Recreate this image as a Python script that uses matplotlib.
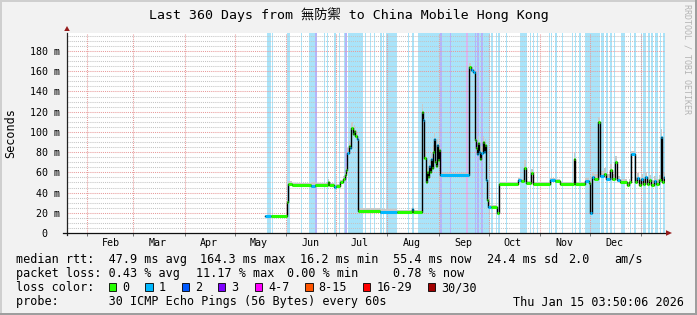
import matplotlib
matplotlib.use('Agg')
import matplotlib.pyplot as plt
import matplotlib.dates as mdates
from matplotlib.patches import Rectangle, Polygon
import numpy as np
import pandas as pd

W, H, DPI = 697, 315, 100
MONO = ['DejaVu Sans Mono', 'Noto Sans CJK TC']

# ---------------- data ----------------
title = "Last 360 Days from 無防禦 to China Mobile Hong Kong"
t_start = pd.Timestamp('2025-01-20 03:50:06')
t_end = pd.Timestamp('2026-01-15 03:50:06')

med_time = [
    '2025-05-19 12:00', '2025-05-23 05:00', '2025-06-01 14:00', '2025-06-02 05:00',
    '2025-06-04 10:00', '2025-06-16 07:00', '2025-06-18 07:00', '2025-06-26 10:00',
    '2025-06-27 00:00', '2025-06-30 00:00', '2025-07-01 00:00', '2025-07-03 08:00',
    '2025-07-05 04:00', '2025-07-06 09:00', '2025-07-07 06:00', '2025-07-07 21:00',
    '2025-07-08 18:00', '2025-07-09 16:00', '2025-07-10 06:00', '2025-07-11 04:00',
    '2025-07-11 19:00', '2025-07-12 16:00', '2025-07-13 14:00', '2025-07-14 05:00',
    '2025-07-14 14:00', '2025-07-27 11:00', '2025-08-06 16:00', '2025-08-15 21:00',
    '2025-08-16 17:00', '2025-08-21 21:00', '2025-08-22 14:00', '2025-08-23 08:00',
    '2025-08-24 02:00', '2025-08-24 22:00', '2025-08-25 15:00', '2025-08-26 05:00',
    '2025-08-26 23:00', '2025-08-27 13:00', '2025-08-28 04:00', '2025-08-28 18:00',
    '2025-08-29 06:00', '2025-08-29 20:00', '2025-08-30 08:00', '2025-08-31 01:00',
    '2025-08-31 15:00', '2025-09-01 06:00', '2025-09-01 20:00', '2025-09-19 04:00',
    '2025-09-20 05:00', '2025-09-21 17:00', '2025-09-22 15:00', '2025-09-23 10:00',
    '2025-09-24 00:00', '2025-09-24 14:00', '2025-09-25 08:00', '2025-09-25 22:00',
    '2025-09-26 16:00', '2025-09-27 10:00', '2025-09-28 05:00', '2025-09-28 19:00',
    '2025-09-29 10:00', '2025-09-30 00:00', '2025-09-30 21:00', '2025-10-02 14:00',
    '2025-10-06 01:00', '2025-10-07 06:00', '2025-10-18 12:00', '2025-10-20 08:00',
    '2025-10-22 13:00', '2025-10-23 08:00', '2025-10-26 18:00', '2025-10-27 13:00',
    '2025-11-06 19:00', '2025-11-09 19:00', '2025-11-13 02:00', '2025-11-21 06:00',
    '2025-11-22 03:00', '2025-11-28 04:00', '2025-11-30 06:00', '2025-12-01 04:00',
    '2025-12-02 02:00', '2025-12-03 14:00', '2025-12-06 00:00', '2025-12-06 22:00',
    '2025-12-09 12:00', '2025-12-10 12:00', '2025-12-12 22:00', '2025-12-13 23:00',
    '2025-12-15 22:00', '2025-12-17 08:00', '2025-12-18 23:00', '2025-12-23 11:00',
    '2025-12-24 16:00', '2025-12-25 23:00', '2025-12-28 04:00', '2025-12-29 12:00',
    '2025-12-30 09:00', '2025-12-31 21:00', '2026-01-02 02:00', '2026-01-03 07:00',
    '2026-01-04 12:00', '2026-01-05 17:00', '2026-01-06 22:00', '2026-01-08 10:00',
    '2026-01-09 22:00', '2026-01-11 10:00', '2026-01-12 19:00', '2026-01-13 13:00',
    '2026-01-14 10:00',
]
med_ms = [
    16.5, 16.5, 31, 48.5, 47, 46.5, 47, 50.5, 47, 45.5, 46, 50, 53, 57, 62, 79,
    86, 84, 104, 98, 101, 96, 93, 76, 21.5, 21, 21, 24, 21, 120, 112, 74,
    50, 60, 55, 66, 60, 73, 64, 80, 93, 70, 66, 87, 72, 82, 57, 164.5,
    161, 159, 92, 84, 78, 89, 80, 73, 79, 90, 80, 87, 52, 33, 26, 26,
    20, 48.5, 52, 51, 64, 49, 59, 48.5, 52, 51, 48, 73, 48, 51.5, 49, 20,
    55, 53, 110, 56, 58, 53, 62, 53, 70, 52, 50, 47, 50, 78, 50, 54,
    47, 53, 48, 55, 48, 52, 47, 51, 48, 52, 95, 50, 55,
]
med_loss = [
    1, 0, 0, 0, 0, 1, 0, 0, 0, 1, 0, 0, 0, 0, 0, 1,
    0, 1, 0, 0, 0, 0, 1, 1, 0, 1, 0, 1, 0, 0, 1, 0,
    0, 0, 0, 1, 0, 1, 0, 0, 1, 0, 0, 1, 0, 0, 1, 0,
    1, 1, 0, 0, 1, 0, 1, 0, 1, 0, 1, 0, 1, 0, 1, 0,
    0, 0, 1, 0, 0, 0, 0, 0, 1, 0, 0, 0, 0, 1, 0, 1,
    1, 0, 0, 1, 0, 1, 0, 0, 0, 1, 0, 0, 0, 1, 0, 1,
    0, 1, 0, 1, 0, 0, 0, 1, 0, 0, 1, 0, 1,
]
smoke_ms = [
    1, 1, 0, 3, 2.5, 4, 2.5, 3, 2.5, 2, 2, 2, 3, 3, 4, 5,
    5, 6, 6, 6, 6, 6, 5, 4, 3, 2.5, 1.5, 1.5, 1.5, 8, 8, 8,
    6, 6, 6, 6, 6, 6, 6, 7, 7, 6, 6, 6, 6, 6, 2.5, 4,
    3, 3, 8, 7, 7, 7, 7, 7, 7, 6, 6, 6, 4, 3, 2, 2,
    1, 2, 2.5, 2.5, 8, 2.5, 4, 2, 2.5, 2.5, 2, 6, 2, 3, 3, 2,
    4, 5, 5, 5, 6, 5, 6, 5, 6, 4, 3, 3, 3, 3, 5, 5,
    5, 5, 5, 5, 5, 5, 5, 5, 5, 5, 8, 5, 4,
]

# packet-loss background bands: start, end, loss level
band_start = [
    '2025-05-20 09:00', '2025-05-23 20:00', '2025-06-01 14:00', '2025-06-09 20:00',
    '2025-06-14 16:00', '2025-06-18 07:00', '2025-06-23 17:00', '2025-06-25 12:00',
    '2025-06-29 17:00', '2025-07-03 04:00', '2025-07-05 18:00', '2025-07-06 19:00',
    '2025-07-08 08:00', '2025-07-18 10:00', '2025-07-21 10:00', '2025-07-24 00:00',
    '2025-07-27 20:00', '2025-07-29 10:00', '2025-07-31 01:00', '2025-08-13 11:00',
    '2025-08-15 17:00', '2025-08-19 12:00', '2025-09-01 13:00', '2025-09-07 13:00',
    '2025-09-17 15:00', '2025-09-22 13:00', '2025-09-24 04:00', '2025-09-26 14:00',
    '2025-10-02 16:00', '2025-10-05 06:00', '2025-10-06 22:00', '2025-10-11 17:00',
    '2025-10-19 17:00', '2025-10-25 18:00', '2025-10-27 18:00', '2025-10-30 09:00',
    '2025-11-06 04:00', '2025-11-07 19:00', '2025-11-09 19:00', '2025-11-14 10:00',
    '2025-11-20 11:00', '2025-11-21 20:00', '2025-11-24 06:00', '2025-11-27 20:00',
    '2025-12-07 22:00', '2025-12-10 22:00', '2025-12-12 22:00', '2025-12-15 12:00',
    '2025-12-19 23:00', '2025-12-24 23:00', '2025-12-27 13:00', '2025-12-31 10:00',
    '2026-01-01 23:00', '2026-01-04 23:00', '2026-01-07 00:00', '2026-01-08 23:00',
    '2026-01-12 00:00', '2026-01-14 01:00',
]
band_end = [
    '2025-05-22 19:00', '2025-05-24 10:00', '2025-06-03 06:00', '2025-06-10 11:00',
    '2025-06-18 07:00', '2025-06-19 12:00', '2025-06-24 07:00', '2025-06-26 10:00',
    '2025-06-30 22:00', '2025-07-03 18:00', '2025-07-06 19:00', '2025-07-07 18:00',
    '2025-07-17 05:00', '2025-07-19 00:00', '2025-07-22 00:00', '2025-07-24 20:00',
    '2025-07-28 15:00', '2025-07-30 06:00', '2025-08-06 20:00', '2025-08-14 01:00',
    '2025-08-17 08:00', '2025-10-01 16:00', '2025-09-03 04:00', '2025-09-08 04:00',
    '2025-09-18 14:00', '2025-09-23 04:00', '2025-09-25 03:00', '2025-09-27 09:00',
    '2025-10-03 16:00', '2025-10-06 01:00', '2025-10-07 16:00', '2025-10-12 08:00',
    '2025-10-23 23:00', '2025-10-26 08:00', '2025-10-28 08:00', '2025-10-30 18:00',
    '2025-11-06 19:00', '2025-11-08 10:00', '2025-11-11 00:00', '2025-11-15 01:00',
    '2025-11-21 01:00', '2025-11-22 20:00', '2025-11-25 11:00', '2025-12-06 22:00',
    '2025-12-09 12:00', '2025-12-11 22:00', '2025-12-14 07:00', '2025-12-16 08:00',
    '2025-12-22 09:00', '2025-12-25 23:00', '2025-12-29 00:00', '2026-01-01 14:00',
    '2026-01-04 00:00', '2026-01-06 00:00', '2026-01-08 00:00', '2026-01-10 23:00',
    '2026-01-13 01:00', '2026-01-15 03:50',
]
band_level = [
    1, 1, 1, 1, 1, 2, 1, 1, 1, 1, 1, 2, 1, 1, 1, 1,
    1, 1, 1, 1, 1, 1, 2, 2, 3, 2, 2, 2, 1, 1, 1, 1,
    1, 1, 1, 1, 1, 1, 1, 1, 1, 1, 1, 1, 1, 1, 1, 1,
    1, 1, 1, 1, 1, 1, 1, 1, 1, 1,
]

yticks = [0, 20, 40, 60, 80, 100, 120, 140, 160, 180]
ytick_labels = ['0  ', '20 m', '40 m', '60 m', '80 m', '100 m', '120 m', '140 m', '160 m', '180 m']

loss_names = ['0', '1', '2', '3', '4-7', '8-15', '16-29', '30/30']
loss_colors = ['#26ff00', '#00b8ff', '#0059ff', '#7e00ff', '#ff00ff', '#ff5500', '#ff0000', '#a10000']
band_colors = {1: '#a9e4fa', 2: '#b4b4fb', 3: '#dab6f3'}

rtt_items = [('median rtt:  47.9 ms avg', 16), ('164.3 ms max', 200), ('16.2 ms min', 300),
             ('55.4 ms now', 393.3), ('24.4 ms sd', 486.7), ('2.0', 568.3), ('am/s', 614)]
loss_items = [('packet loss: 0.43 % avg', 16), ('11.17 % max', 196), ('0.00 % min', 286.7),
              ('0.78 % now', 393.3)]
probe_text = 'probe:       30 ICMP Echo Pings (56 Bytes) every 60s'
stamp_text = 'Thu Jan 15 03:50:06 2026'

# ---------------- figure ----------------
fig = plt.figure(figsize=(W / DPI, H / DPI), dpi=DPI, facecolor='#F2F2F2')


def P(x, y):
    return (x / W, 1 - y / H)


L, R, T, B = 67, 665, 33, 233
ax = fig.add_axes([L / W, 1 - B / H, (R - L) / W, (B - T) / H])
ax.set_facecolor('white')
x0, x1 = mdates.date2num(t_start), mdates.date2num(t_end)
ax.set_xlim(x0, x1)
ax.set_ylim(0, (B - T) / 1.0111)
for s in ax.spines.values():
    s.set_visible(False)

# loss bands
for s, e, lv in zip(band_start, band_end, band_level):
    ax.axvspan(mdates.date2num(pd.Timestamp(s)), mdates.date2num(pd.Timestamp(e)),
               color=band_colors[lv], lw=0, zorder=0.5)

# grid
dot = (0, (1, 1))
ymax = ax.get_ylim()[1]
for v in np.arange(5, ymax, 5):
    if v % 20 == 0:
        ax.axhline(v, color='#e89a9a', lw=0.75, ls=dot, zorder=1)
    else:
        ax.axhline(v, color='#c4c4c4', lw=0.75, ls=dot, zorder=1)
month_starts = pd.date_range('2025-02-01', '2026-01-01', freq='MS')
for m in month_starts:
    ax.axvline(mdates.date2num(m), color='#e89a9a', lw=0.75, ls=dot, zorder=1)

# median + smoke
t = [mdates.date2num(pd.Timestamp(s)) for s in med_time] + [x1]
y = np.array(med_ms + [med_ms[-1]], dtype=float)
sm = np.array(smoke_ms + [smoke_ms[-1]], dtype=float)
ax.fill_between(t, y - 0.6, y + sm, step='post', color='#c9c9c9', lw=0, zorder=2)
ax.step(t, y, where='post', color='black', lw=1.0, zorder=3)
ax.hlines(med_ms, t[:-1], t[1:], colors=[loss_colors[k] for k in med_loss],
          lw=2.2, zorder=4, capstyle='butt')

# ticks
ax.set_yticks(yticks)
ax.set_yticklabels(ytick_labels, family=MONO, fontsize=7.2)
ax.tick_params(axis='y', length=0, pad=5.0)
ax.set_xticks([mdates.date2num(m) for m in month_starts])
ax.set_xticklabels([])
ax.tick_params(axis='x', which='major', length=2.2, width=0.7, color='#707070', direction='out')
mid = [m + pd.Timedelta(days=14.5) for m in month_starts]
mid = [m for m in mid if t_start < m < t_end]
ax.set_xticks([mdates.date2num(m) for m in mid], minor=True)
ax.set_xticklabels([m.strftime('%b') for m in mid], minor=True, family=MONO, fontsize=7.2)
ax.tick_params(axis='x', which='minor', length=0, pad=3.9)

# axes lines + arrows
ax.plot([0, 0], [-0.01, 1.0], transform=ax.transAxes, color='#222222', lw=0.9, clip_on=False, zorder=6)
ax.plot([-0.006, 1.002], [0, 0], transform=ax.transAxes, color='#111111', lw=0.9, clip_on=False, zorder=6)
arrow_col = '#961c1c'
fig.add_artist(Polygon([P(64.2, 31), P(69.8, 31), P(67, 26)], closed=True,
                       transform=fig.transFigure, color=arrow_col, lw=0))
fig.add_artist(Polygon([P(666, 230.2), P(666, 235.8), P(672, 233)], closed=True,
                       transform=fig.transFigure, color=arrow_col, lw=0))

# frame shading
fig.add_artist(Rectangle(P(0, 2), 1, 2 / H, transform=fig.transFigure, color='#CFCFCF', lw=0))
fig.add_artist(Rectangle(P(0, H), 2 / W, 1, transform=fig.transFigure, color='#CFCFCF', lw=0))
fig.add_artist(Rectangle(P(0, H), 1, 2.5 / H, transform=fig.transFigure, color='#9E9E9E', lw=0))
fig.add_artist(Rectangle(P(W - 2, H), 2 / W, 1, transform=fig.transFigure, color='#9E9E9E', lw=0))

# texts
fig.text(*P(348.5, 19), title, ha='center', va='baseline', fontsize=9.5, family=MONO)
fig.text(*P(11, 133), 'Seconds', rotation=90, ha='center', va='center', fontsize=8.5, family=MONO)
fig.text(*P(687.5, 4), 'RRDTOOL / TOBI OETIKER', rotation=270, ha='center', va='top',
         fontsize=6.0, color='#b4b4b4', family=MONO)

FS = 8.5
for txt, xp in rtt_items:
    fig.text(*P(xp, 263), txt, ha='left', va='baseline', fontsize=FS, family=MONO)
for txt, xp in loss_items:
    fig.text(*P(xp, 277.2), txt, ha='left', va='baseline', fontsize=FS, family=MONO)
fig.text(*P(16, 291.4), 'loss color:', ha='left', va='baseline', fontsize=FS, family=MONO)
bx = 108.9
cw = 7.12
for name, col in zip(loss_names, loss_colors):
    fig.add_artist(Rectangle(P(bx, 290.7), 7.3 / W, 7.3 / H, transform=fig.transFigure,
                             facecolor=col, edgecolor='black', lw=0.6))
    lx = bx + 13.3
    fig.text(*P(lx, 291.4), name, ha='left', va='baseline', fontsize=FS, family=MONO)
    bx = lx + len(name) * cw + 16
fig.text(*P(16, 305.5), probe_text, ha='left', va='baseline', fontsize=FS, family=MONO)
fig.text(*P(513, 305.5), stamp_text, ha='left', va='baseline', fontsize=FS, family=MONO)

fig.savefig('out.png', dpi=DPI, facecolor=fig.get_facecolor())
